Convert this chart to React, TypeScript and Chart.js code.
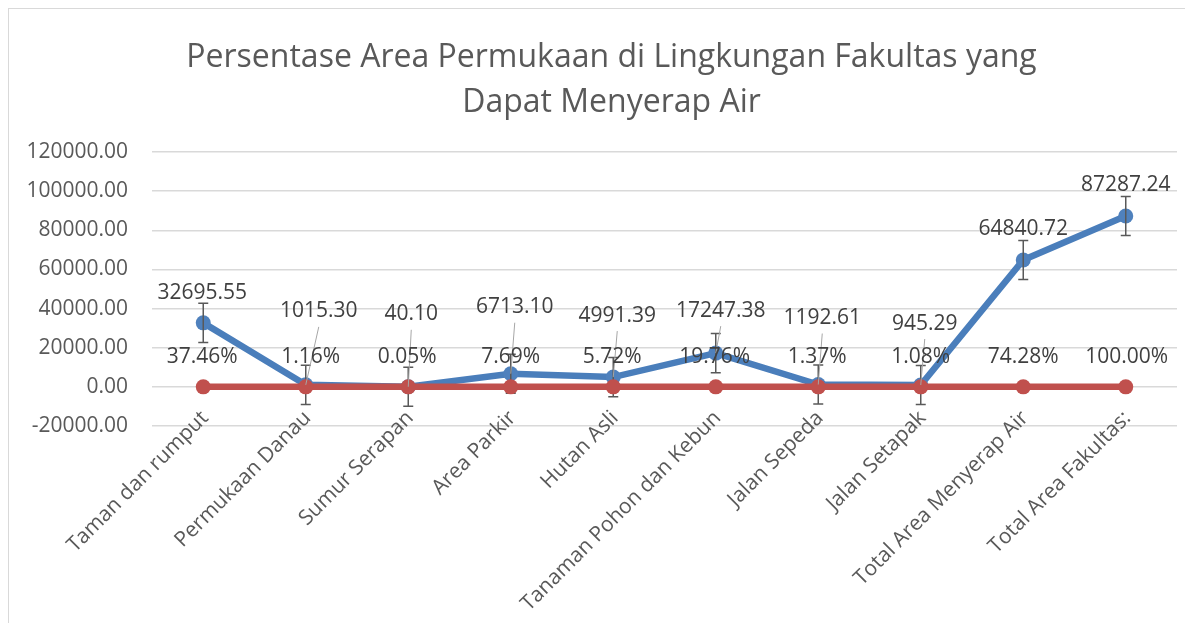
import React, { useEffect, useRef } from 'react';
import { Chart, registerables } from 'chart.js';

Chart.register(...registerables);

const categories = [
  'Taman dan rumput',
  'Permukaan Danau',
  'Sumur Serapan',
  'Area Parkir',
  'Hutan Asli',
  'Tanaman Pohon dan Kebun',
  'Jalan Sepeda',
  'Jalan Setapak',
  'Total Area Menyerap Air',
  'Total Area Fakultas:',
];
const areaValues = [32695.55, 1015.3, 40.1, 6713.1, 4991.39, 17247.38, 1192.61, 945.29, 64840.72, 87287.24];
const percentValues = [0.3746, 0.0116, 0.0005, 0.0769, 0.0572, 0.1976, 0.0137, 0.0108, 0.7428, 1.0];
const errorAmounts = [10000, 10000, 10000, 10000, 10000, 10000, 10000, 10000, 10000, 10000];
const yMin = -20000;
const yMax = 120000;
const yStep = 20000;
const titleLines = ['Persentase Area Permukaan di Lingkungan Fakultas yang', 'Dapat Menyerap Air'];

// label placement (pixel offsets from the point), kept apart from the data
const areaLabelShift: [number, number][] = [
  [-1, -31], [13, -75], [3, -74], [4, -68], [4, -63], [5, -44], [4, -68], [4, -63], [0, -32], [0, -33],
];
const areaLeader = [false, true, true, true, true, true, true, true, false, false];
const percentLabelShift: [number, number][] = [
  [-1, -31], [5, -31], [-1, -31], [0, -31], [-1, -31], [-1, -31], [-1, -31], [0, -31], [0, -31], [1, -31],
];

const FONT = '"Open Sans", "Noto Sans", sans-serif';
const BLUE = '#4A7EBB';
const RED = '#C0504D';

const errorBarPlugin = {
  id: 'errorBars',
  afterDatasetDraw(chart: any, args: any) {
    if (args.meta.label !== 'area') return;
    const { ctx } = chart;
    const y = chart.scales.y;
    ctx.save();
    ctx.strokeStyle = '#595959';
    ctx.lineWidth = 1.5;
    args.meta.data.forEach((pt: any, i: number) => {
      const v = areaValues[i];
      const top = y.getPixelForValue(v + errorAmounts[i]);
      const bot = y.getPixelForValue(v - errorAmounts[i]);
      const x = pt.x;
      ctx.beginPath();
      ctx.moveTo(x, top);
      ctx.lineTo(x, bot);
      ctx.moveTo(x - 5, top);
      ctx.lineTo(x + 5, top);
      ctx.moveTo(x - 5, bot);
      ctx.lineTo(x + 5, bot);
      ctx.stroke();
    });
    ctx.restore();
  },
};

const labelPlugin = {
  id: 'pointLabels',
  afterDatasetsDraw(chart: any) {
    const { ctx } = chart;
    const metaArea = chart.getDatasetMeta(1);
    const metaPct = chart.getDatasetMeta(0);
    ctx.save();
    ctx.font = `21px ${FONT}`;
    ctx.textAlign = 'center';
    ctx.textBaseline = 'alphabetic';
    ctx.strokeStyle = '#a6a6a6';
    ctx.lineWidth = 1;
    metaArea.data.forEach((pt: any, i: number) => {
      if (!areaLeader[i]) return;
      const lx = pt.x + areaLabelShift[i][0];
      const ly = pt.y + areaLabelShift[i][1];
      ctx.beginPath();
      ctx.moveTo(lx, ly + 17);
      ctx.lineTo(pt.x, pt.y);
      ctx.stroke();
    });
    ctx.fillStyle = '#404040';
    metaArea.data.forEach((pt: any, i: number) => {
      const lx = pt.x + areaLabelShift[i][0];
      const ly = pt.y + areaLabelShift[i][1];
      ctx.fillText(areaValues[i].toFixed(2), lx, ly + 7.5);
    });
    metaPct.data.forEach((pt: any, i: number) => {
      const lx = pt.x + percentLabelShift[i][0];
      const ly = pt.y + percentLabelShift[i][1];
      ctx.fillText((percentValues[i] * 100).toFixed(2) + '%', lx, ly + 7.5);
    });
    ctx.restore();
  },
  afterDraw(chart: any) {
    const { ctx, chartArea } = chart;
    const x = chart.scales.x;
    ctx.save();
    ctx.font = `32px ${FONT}`;
    ctx.fillStyle = '#595959';
    ctx.textAlign = 'center';
    ctx.textBaseline = 'alphabetic';
    ctx.fillText(titleLines[0], chart.width / 2, 58);
    ctx.fillText(titleLines[1], chart.width / 2, 103);
    ctx.font = `21px ${FONT}`;
    ctx.textAlign = 'right';
    categories.forEach((c, i) => {
      const px = x.getPixelForValue(i);
      ctx.save();
      ctx.translate(px + 6, chartArea.bottom - 7);
      ctx.rotate(-Math.PI / 4);
      ctx.fillText(c, 0, 0);
      ctx.restore();
    });
    ctx.restore();
  },
};

export default function App() {
  const ref = useRef<HTMLCanvasElement>(null);
  useEffect(() => {
    document.documentElement.style.overflow = 'hidden';
    document.body.style.overflow = 'hidden';
    const chart = new Chart(ref.current as HTMLCanvasElement, {
      type: 'line',
      data: {
        labels: categories,
        datasets: [
          {
            label: 'percent',
            data: percentValues,
            borderColor: RED,
            backgroundColor: RED,
            pointBackgroundColor: RED,
            pointBorderColor: RED,
            borderWidth: 6.5,
            pointRadius: 7.5,
            pointBorderWidth: 0,
            order: 0,
          },
          {
            label: 'area',
            data: areaValues,
            borderColor: BLUE,
            backgroundColor: BLUE,
            pointBackgroundColor: '#4F81BD',
            pointBorderColor: '#4F81BD',
            borderWidth: 6.5,
            pointRadius: 7.5,
            pointBorderWidth: 0,
            order: 1,
          },
        ],
      },
      options: {
        responsive: false,
        animation: false,
        layout: { padding: { top: 143, bottom: 203, left: 0, right: 37 } },
        plugins: { legend: { display: false }, title: { display: false }, tooltip: { enabled: false } },
        scales: {
          x: { display: false, offset: true },
          y: {
            min: yMin,
            max: yMax,
            afterFit: (s: any) => { s.width = 143; },
            ticks: {
              stepSize: yStep,
              padding: 24,
              color: '#595959',
              font: { family: FONT, size: 21 },
              callback: (v: any) => Number(v).toFixed(2),
            },
            grid: { color: '#d9d9d9', lineWidth: 1.5, drawTicks: false },
            border: { display: false },
          },
        },
      },
      plugins: [errorBarPlugin, labelPlugin],
    });
    return () => chart.destroy();
  }, []);
  return (
    <div style={{ border: '1px solid #d9d9d9', width: 1205, height: 620, background: '#fff' }}>
      <canvas ref={ref} width={1205} height={620} style={{ display: 'block', width: 1205, height: 620 }} />
    </div>
  );
}
